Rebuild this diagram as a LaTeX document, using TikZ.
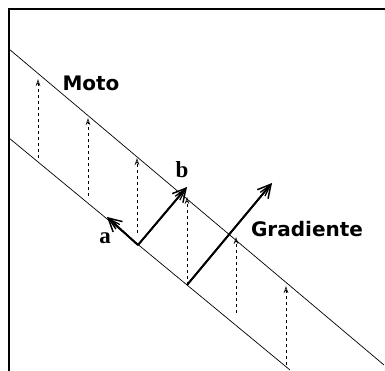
\documentclass[tikz,border=0pt]{standalone}
\usepackage{fontspec}
\usepackage{tikz}
\usetikzlibrary{arrows.meta}
\newfontfamily\labelsans{DejaVu Sans}
\newfontfamily\labelserif{Liberation Serif}

\begin{document}
\begin{tikzpicture}[
    x=1pt, y=-1pt,
    guide/.style={line width=0.7pt, black},
    flow/.style={-{Stealth[open, length=7pt, width=4.5pt, line width=0.6pt]}, line width=0.9pt, dash pattern=on 3pt off 3pt},
    vec/.style={-{Straight Barb[length=13pt, width=14pt, line width=1.5pt]}, line width=1.8pt,
      postaction={draw, -{Straight Barb[length=12pt, width=6pt, line width=1.3pt]}}},
    bigword/.style={font=\labelsans\bfseries\fontsize{20}{20}\selectfont},
    letter/.style={font=\labelserif\bfseries\fontsize{23}{23}\selectfont}
  ]
    \useasboundingbox (0,0) rectangle (385,371);

    % window frame
    \draw[line width=1.4pt] (9,371) -- (9,9) -- (385,9);

    % band edges
    \coordinate (upA) at (9,49);
    \coordinate (upB) at (384,365);
    \coordinate (loA) at (9,138);
    \coordinate (loB) at (290,370);
    \draw[guide] (upA) -- (upB);
    \draw[guide] (loA) -- (loB);

    % motion field
    \draw[flow] (38,158) -- (38,79);
    \draw[flow] (88,196) -- (88,118);
    \draw[flow] (137,233) -- (137,158);
    \draw[flow] (187,285) -- (187,197);
    \draw[flow] (236,313) -- (236,237);
    \draw[flow] (286,365) -- (286,286);

    % vectors
    \coordinate (base) at (138,245);
    \coordinate (tipa) at (107,217);
    \coordinate (tipb) at (187,187);
    \coordinate (gbase) at (187,285);
    \coordinate (gtip) at (272,183);
    \draw[vec] (base) -- (tipa);
    \draw[vec] (base) -- (tipb);
    \draw[vec] (gbase) -- (gtip);

    \node[bigword] (moto) at (91,83) {Moto};
    \node[bigword] (grad) at (307,229) {Gradiente};
    \node[letter] (la) at (105,238) {a};
    \node[letter] (lb) at (182,170) {b};
\end{tikzpicture}
\end{document}
